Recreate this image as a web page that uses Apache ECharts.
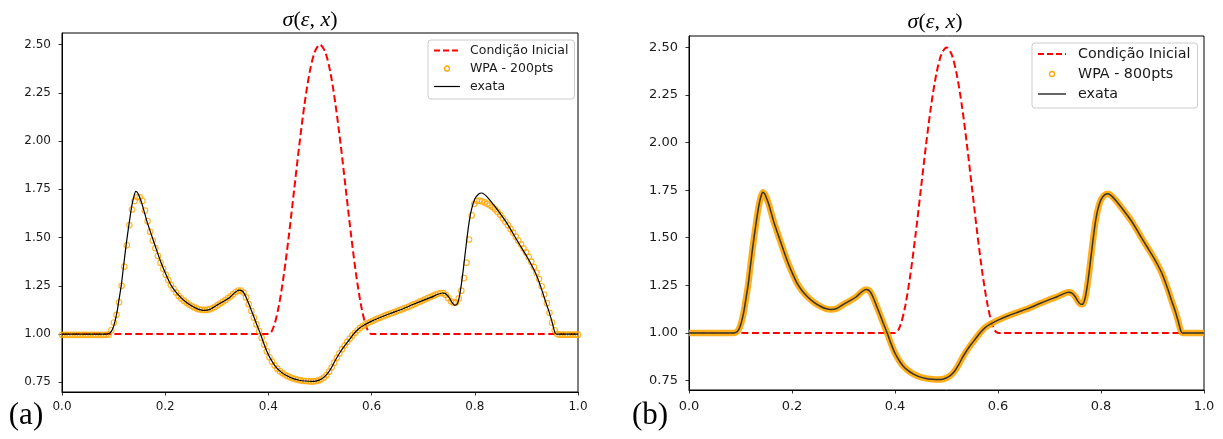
<!DOCTYPE html>
<html>
<head>
<meta charset="utf-8">
<script src="https://cdn.jsdelivr.net/npm/echarts@6/dist/echarts.min.js"></script>
<style>
  html, body { margin: 0; padding: 0; background: #fff; }
  #chart { width: 1223px; height: 439px; }
</style>
</head>
<body>
<div id="chart"></div>
<script>
// ticks dos eixos
const xTicks = [0, 0.2, 0.4, 0.6, 0.8, 1.0]
const yTicks = [0.75, 1.0, 1.25, 1.5, 1.75, 2.0, 2.25, 2.5]

// condição inicial
const initX = [0, 0.40, 0.41, 0.42, 0.43, 0.44, 0.45, 0.46, 0.47, 0.48, 0.49, 0.50,
  0.51, 0.52, 0.53, 0.54, 0.55, 0.56, 0.57, 0.58, 0.59, 0.60, 1.0]
const initY = [1, 1, 1.037, 1.143, 1.309, 1.518, 1.75, 1.982, 2.191, 2.357, 2.463, 2.5,
  2.463, 2.357, 2.191, 1.982, 1.75, 1.518, 1.309, 1.143, 1.037, 1, 1]

// solução exata
const exactX = [0, 0.085, 0.091, 0.096, 0.100, 0.104, 0.107, 0.110, 0.115, 0.119, 0.123, 0.127,
  0.131, 0.135, 0.139, 0.143, 0.147, 0.151, 0.155, 0.160, 0.165, 0.170, 0.177, 0.184,
  0.192, 0.200, 0.210, 0.220, 0.230, 0.242, 0.255, 0.265, 0.275, 0.287, 0.300, 0.312,
  0.325, 0.335, 0.343, 0.350, 0.357, 0.364, 0.371, 0.378, 0.385, 0.392, 0.400, 0.408,
  0.416, 0.425, 0.435, 0.448, 0.460, 0.472, 0.484, 0.494, 0.502, 0.510, 0.516, 0.524,
  0.532, 0.540, 0.548, 0.556, 0.565, 0.575, 0.585, 0.600, 0.620, 0.640, 0.660, 0.680,
  0.700, 0.715, 0.727, 0.737, 0.743, 0.750, 0.756, 0.761, 0.765, 0.769, 0.773, 0.777,
  0.781, 0.785, 0.789, 0.794, 0.800, 0.807, 0.814, 0.822, 0.830, 0.840, 0.850, 0.860,
  0.870, 0.880, 0.890, 0.900, 0.910, 0.920, 0.930, 0.937, 0.944, 0.950, 0.955, 0.958, 1.0]
const exactY = [1, 1, 1.003, 1.015, 1.04, 1.08, 1.12, 1.17, 1.255, 1.345, 1.435, 1.515,
  1.59, 1.66, 1.71, 1.739, 1.73, 1.705, 1.675, 1.628, 1.58, 1.54, 1.485, 1.43,
  1.37, 1.318, 1.26, 1.22, 1.19, 1.162, 1.14, 1.128, 1.123, 1.128, 1.15, 1.168,
  1.19, 1.215, 1.228, 1.222, 1.19, 1.143, 1.095, 1.046, 0.998, 0.945, 0.893, 0.855,
  0.825, 0.803, 0.785, 0.769, 0.761, 0.757, 0.755, 0.758, 0.766, 0.782, 0.80, 0.835,
  0.875, 0.91, 0.94, 0.968, 1.0, 1.028, 1.046, 1.067, 1.09, 1.11, 1.13, 1.153,
  1.175, 1.19, 1.205, 1.213, 1.21, 1.19, 1.163, 1.15, 1.152, 1.18, 1.24, 1.32,
  1.41, 1.50, 1.58, 1.65, 1.70, 1.725, 1.731, 1.716, 1.692, 1.658, 1.622, 1.584,
  1.54, 1.494, 1.45, 1.406, 1.358, 1.302, 1.228, 1.17, 1.115, 1.06, 1.01, 1.0, 1]

// WPA - 200 pontos (malha uniforme em [0, 1])
const wpa200Y = [
  0.996, 0.996, 0.996, 0.996, 0.996, 0.996, 0.996, 0.996, 0.996, 0.996,
  0.996, 0.996, 0.996, 0.996, 0.996, 0.996, 0.996, 0.996, 0.998, 1.02,
  1.06, 1.10, 1.165, 1.25, 1.35, 1.46, 1.565, 1.645, 1.69, 1.71,
  1.71, 1.69, 1.64, 1.585, 1.53, 1.485, 1.445, 1.405, 1.37, 1.338,
  1.308, 1.28, 1.255, 1.235, 1.215, 1.198, 1.185, 1.173, 1.163, 1.153,
  1.145, 1.138, 1.132, 1.128, 1.126, 1.125, 1.126, 1.129, 1.134, 1.141,
  1.15, 1.158, 1.167, 1.176, 1.186, 1.196, 1.207, 1.218, 1.226, 1.226,
  1.215, 1.19, 1.155, 1.12, 1.085, 1.05, 1.015, 0.98, 0.945, 0.91,
  0.88, 0.857, 0.837, 0.821, 0.808, 0.798, 0.789, 0.782, 0.776, 0.771,
  0.767, 0.763, 0.76, 0.758, 0.757, 0.756, 0.755, 0.755, 0.757, 0.76,
  0.766, 0.775, 0.788, 0.806, 0.828, 0.852, 0.877, 0.90, 0.922, 0.942,
  0.96, 0.977, 0.993, 1.007, 1.02, 1.032, 1.042, 1.05, 1.057, 1.064,
  1.07, 1.076, 1.082, 1.087, 1.093, 1.098, 1.103, 1.108, 1.113, 1.118,
  1.123, 1.128, 1.133, 1.139, 1.144, 1.15, 1.156, 1.162, 1.168, 1.174,
  1.18, 1.186, 1.192, 1.198, 1.204, 1.209, 1.213, 1.212, 1.203, 1.186,
  1.17, 1.163, 1.165, 1.185, 1.225, 1.29, 1.37, 1.49, 1.615, 1.675,
  1.69, 1.692, 1.688, 1.682, 1.675, 1.667, 1.658, 1.647, 1.633, 1.618,
  1.60, 1.582, 1.564, 1.545, 1.526, 1.505, 1.485, 1.465, 1.444, 1.423,
  1.40, 1.375, 1.347, 1.318, 1.285, 1.248, 1.205, 1.16, 1.11, 1.06,
  1.02, 1.0, 0.997, 0.997, 0.997, 0.997, 0.997, 0.997, 0.997, 0.997
]
const wpa200X = wpa200Y.map((_, i) => i / (wpa200Y.length - 1))

// WPA - 800 pontos: coincide com a exata na figura
const wpa800X = exactX
const wpa800Y = exactY

const pairs = (xs, ys) => xs.map((x, i) => [x, ys[i]])

const RED = '#ff0000'
const ORANGE = '#ffa500'

const xAxisOf = (gridIndex, fontSize, margin) => ({
  type: 'value',
  gridIndex,
  min: 0,
  max: 1,
  axisLine: { show: true, onZero: false, lineStyle: { color: '#000', width: 1 } },
  axisTick: { show: true, length: 3.5, customValues: xTicks, lineStyle: { color: '#000', width: 0.8 } },
  axisLabel: {
    customValues: xTicks,
    fontSize,
    margin,
    fontFamily: 'DejaVu Sans',
    color: '#1a1a1a',
    formatter: v => v.toFixed(1)
  },
  splitLine: { show: false }
})

const yAxisOf = (gridIndex, fontSize, margin) => ({
  type: 'value',
  gridIndex,
  min: 0.70,
  max: 2.56,
  axisLine: { show: true, onZero: false, lineStyle: { color: '#000', width: 1 } },
  axisTick: { show: true, length: 3.5, customValues: yTicks, lineStyle: { color: '#000', width: 0.8 } },
  axisLabel: {
    customValues: yTicks,
    fontSize,
    margin,
    fontFamily: 'DejaVu Sans',
    color: '#1a1a1a',
    formatter: v => v.toFixed(2)
  },
  splitLine: { show: false }
})

const legendOf = (opts, wpaName, exactColor, exactWidth) => ({
  orient: 'vertical',
  left: opts.left,
  top: opts.top,
  itemWidth: opts.itemWidth,
  itemHeight: 5,
  itemGap: opts.itemGap,
  padding: opts.padding,
  borderColor: '#cccccc',
  borderWidth: 1,
  borderRadius: 3,
  backgroundColor: 'rgba(255,255,255,0.8)',
  textStyle: {
    fontFamily: 'DejaVu Sans',
    fontSize: opts.fontSize,
    color: '#1a1a1a',
    padding: [0, 0, 0, opts.textPad]
  },
  data: [
    { name: 'Condição Inicial', itemStyle: { opacity: 0 }, lineStyle: { color: RED, width: 2, type: [6, 3] } },
    { name: wpaName, icon: 'circle', itemStyle: { color: 'rgba(255,165,0,0)', borderColor: ORANGE, borderWidth: 1.3, opacity: 1 } },
    { name: 'exata', itemStyle: { opacity: 0 }, lineStyle: { color: exactColor, width: exactWidth, type: 'solid' } }
  ]
})

const titleText = (x, y) => ({
  type: 'text',
  x,
  y,
  style: {
    text: '{i|σ}{n|(}{i|ε}{n|, }{i|x}{n|)}',
    align: 'center',
    verticalAlign: 'middle',
    rich: {
      i: { fontFamily: 'Liberation Serif', fontStyle: 'italic', fontSize: 22, fill: '#000' },
      n: { fontFamily: 'Liberation Serif', fontSize: 22, fill: '#000' }
    }
  }
})

const panelLabel = (x, y, text) => ({
  type: 'text',
  x,
  y,
  style: {
    text,
    align: 'center',
    verticalAlign: 'middle',
    fontFamily: 'Liberation Serif',
    fontSize: 31,
    fill: '#000'
  }
})

const myEcharts = echarts.init(document.getElementById('chart'))
myEcharts.setOption({
  animation: false,
  backgroundColor: '#fff',
  grid: [
    { left: 62, top: 33, width: 516, height: 359, show: true, borderColor: '#000', borderWidth: 1 },
    { left: 689, top: 36, width: 515, height: 354, show: true, borderColor: '#000', borderWidth: 1 }
  ],
  xAxis: [xAxisOf(0, 12, 9), xAxisOf(1, 13, 10)],
  yAxis: [yAxisOf(0, 12, 11), yAxisOf(1, 13, 11)],
  legend: [
    legendOf({ left: 428, top: 40, itemWidth: 26, itemGap: 5, padding: [4, 6, 6, 5], fontSize: 12.5, textPad: 5 }, 'WPA - 200pts', '#000', 1.2),
    legendOf({ left: 1032, top: 43, itemWidth: 28, itemGap: 6, padding: [4, 7, 7, 5], fontSize: 14.3, textPad: 7 }, 'WPA - 800pts', '#333', 1.5)
  ],
  graphic: [
    titleText(310, 20),
    titleText(935, 22),
    panelLabel(26, 416, '(a)'),
    panelLabel(650, 416, '(b)')
  ],
  series: [
    {
      name: 'Condição Inicial',
      type: 'line',
      xAxisIndex: 0,
      yAxisIndex: 0,
      data: pairs(initX, initY),
      symbol: 'none',
      smooth: 0.3,
      lineStyle: { color: RED, width: 2, type: [7, 3.5] },
      itemStyle: { color: RED },
      z: 2
    },
    {
      name: 'WPA - 200pts',
      type: 'scatter',
      xAxisIndex: 0,
      yAxisIndex: 0,
      data: pairs(wpa200X, wpa200Y),
      symbol: 'circle',
      symbolSize: 5.5,
      itemStyle: { color: 'rgba(255,165,0,0)', borderColor: ORANGE, borderWidth: 1.2 },
      z: 3
    },
    {
      name: 'exata',
      type: 'line',
      xAxisIndex: 0,
      yAxisIndex: 0,
      data: pairs(exactX, exactY),
      symbol: 'none',
      smooth: 0.2,
      lineStyle: { color: '#000', width: 1.2 },
      itemStyle: { color: '#000' },
      z: 4
    },
    {
      name: 'Condição Inicial',
      type: 'line',
      xAxisIndex: 1,
      yAxisIndex: 1,
      data: pairs(initX, initY),
      symbol: 'none',
      smooth: 0.3,
      lineStyle: { color: RED, width: 2, type: [7, 3.5] },
      itemStyle: { color: RED },
      z: 2
    },
    {
      name: 'WPA - 800pts',
      type: 'line',
      xAxisIndex: 1,
      yAxisIndex: 1,
      data: pairs(wpa800X, wpa800Y),
      symbol: 'none',
      smooth: 0.2,
      lineStyle: { color: ORANGE, width: 6.5, opacity: 0.9 },
      itemStyle: { color: ORANGE },
      z: 3
    },
    {
      name: 'exata',
      type: 'line',
      xAxisIndex: 1,
      yAxisIndex: 1,
      data: pairs(exactX, exactY),
      symbol: 'none',
      smooth: 0.2,
      lineStyle: { color: '#333', width: 1.5 },
      itemStyle: { color: '#333' },
      z: 4
    }
  ]
})
window.addEventListener('resize', () => {
  myEcharts.resize()
})
</script>
</body>
</html>
